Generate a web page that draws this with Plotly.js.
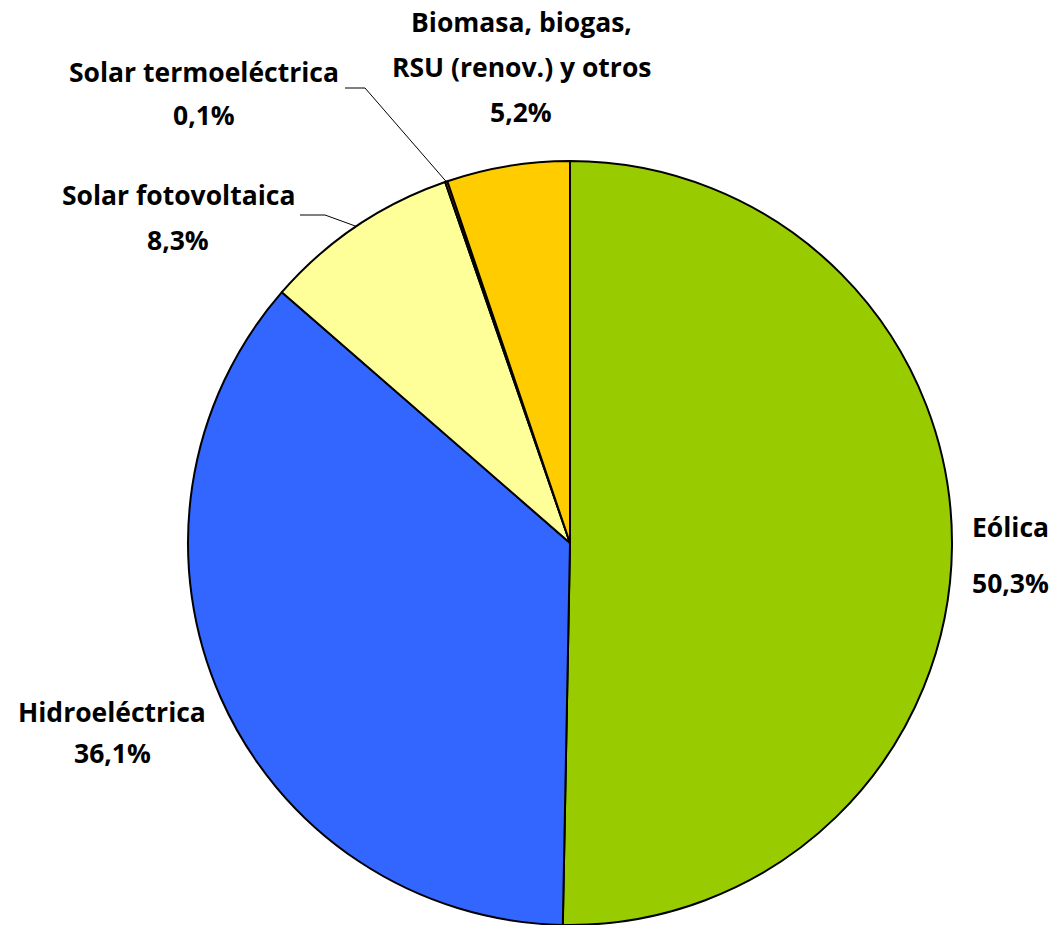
<!DOCTYPE html>
<html>
<head>
<meta charset="utf-8">
<script src="https://cdn.plot.ly/plotly-3.0.1.min.js"></script>
<style>html,body{margin:0;padding:0;background:#fff;}#chart{width:1054px;height:925px;}</style>
</head>
<body>
<div id="chart"></div>
<script>
// Data
var labels = ['Eólica', 'Hidroeléctrica', 'Solar fotovoltaica', 'Solar termoeléctrica', 'Biomasa, biogas, RSU (renov.) y otros'];
var values = [50.3, 36.1, 8.3, 0.1, 5.2];
var labelLines = [['Eólica'], ['Hidroeléctrica'], ['Solar fotovoltaica'], ['Solar termoeléctrica'], ['Biomasa, biogas,', 'RSU (renov.) y otros']];
var colors = ['#99CC00', '#3366FF', '#FFFF99', '#FF6600', '#FFCC00'];

// Layout constants (pixels)
var W = 1054, H = 925;
var cx = 570, cy = 543, R = 382;
// label block positions: [center x, first line center y, line pitch]
var labelPos = [[1010, 527, 56], [112, 712, 41], [178, 195, 45], [204, 72, 43], [521, 22, 45]];
// leader lines: [start x, y, elbow x] for slice index
var leaders = {2: [300, 215, 325], 3: [345, 88, 365]};

function px(x) { return x / W; }
function py(y) { return 1 - y / H; }
function pct(v) { return v.toFixed(1).replace('.', ',') + '%'; }

var font = {family: '"Open Sans", Lato, sans-serif', size: 26.5, color: '#000'};
var annotations = [];
labels.forEach(function (lab, i) {
  var p = labelPos[i];
  var lines = labelLines[i].concat([pct(values[i])]);
  lines.forEach(function (t, k) {
    annotations.push({
      text: '<b>' + t + '</b>', x: px(p[0]), y: py(p[1] + k * p[2]),
      xref: 'paper', yref: 'paper', xanchor: 'center', yanchor: 'middle',
      showarrow: false, font: font
    });
  });
});

var total = values.reduce(function (a, b) { return a + b; }, 0);
var shapes = [];
var cum = 0;
values.forEach(function (v, i) {
  var mid = (cum + v / 2) / total * 2 * Math.PI;
  cum += v;
  if (leaders[i]) {
    var L = leaders[i];
    var ex = cx + R * Math.sin(mid), ey = cy - R * Math.cos(mid);
    shapes.push({
      type: 'path', xref: 'paper', yref: 'paper',
      path: 'M ' + px(L[0]) + ' ' + py(L[1]) + ' L ' + px(L[2]) + ' ' + py(L[1]) + ' L ' + px(ex) + ' ' + py(ey),
      line: {color: '#000', width: 1}
    });
  }
});

var trace = {
  type: 'pie', labels: labels, values: values, sort: false, direction: 'clockwise', rotation: 0,
  marker: {colors: colors, line: {color: '#000', width: 2}},
  textinfo: 'none', hoverinfo: 'label+percent', showlegend: false,
  domain: {x: [px(cx - R), px(cx + R)], y: [py(cy + R), py(cy - R)]}
};

var layout = {
  width: W, height: H, margin: {l: 0, r: 0, t: 0, b: 0},
  paper_bgcolor: '#fff', plot_bgcolor: '#fff', showlegend: false,
  annotations: annotations, shapes: shapes
};

Plotly.newPlot('chart', [trace], layout, {displayModeBar: false, staticPlot: true});
</script>
</body>
</html>
